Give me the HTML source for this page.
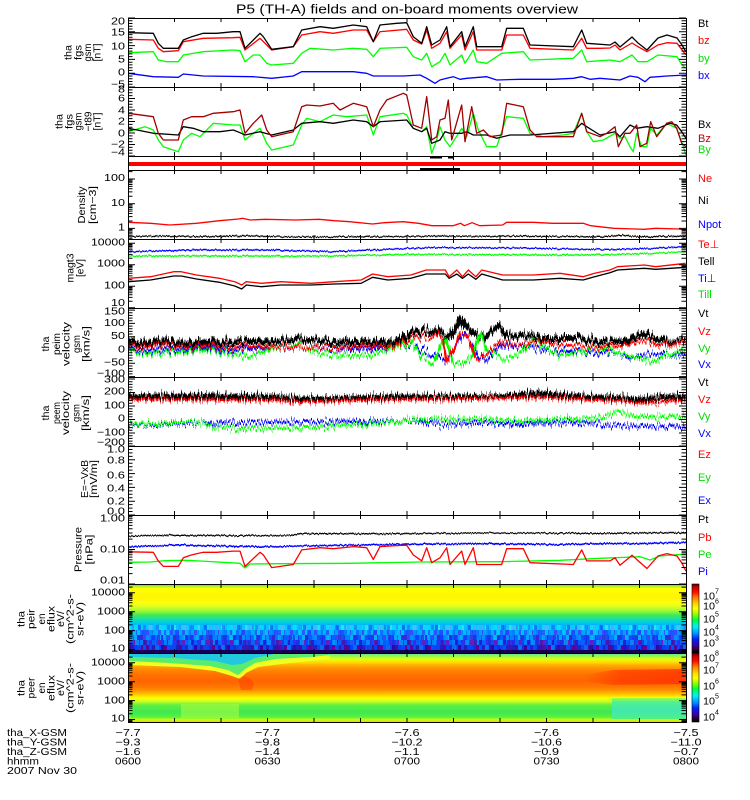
<!DOCTYPE html>
<html><head><meta charset="utf-8">
<style>
html,body{margin:0;padding:0;background:#fff}
svg{display:block}
text{font-family:"Liberation Sans",sans-serif;fill:#000}
</style></head>
<body>
<svg width="750" height="800" viewBox="0 0 750 800" xmlns="http://www.w3.org/2000/svg">
<defs>
<linearGradient id="ionG" gradientUnits="userSpaceOnUse" x1="0" y1="584" x2="0" y2="625">
<stop offset="0" stop-color="#58d840"/><stop offset="0.06" stop-color="#b0f020"/><stop offset="0.11" stop-color="#ffff00"/>
<stop offset="0.32" stop-color="#fff400"/><stop offset="0.46" stop-color="#ffff10"/><stop offset="0.56" stop-color="#d8ff20"/>
<stop offset="0.66" stop-color="#98f838"/><stop offset="0.76" stop-color="#40e858"/><stop offset="0.85" stop-color="#18e0a0"/>
<stop offset="0.93" stop-color="#00d0e0"/><stop offset="1" stop-color="#00b0ff"/>
</linearGradient>
<linearGradient id="elG" gradientUnits="userSpaceOnUse" x1="0" y1="653" x2="0" y2="722">
<stop offset="0" stop-color="#50e8a0"/><stop offset="0.043" stop-color="#90f850"/><stop offset="0.087" stop-color="#e0ff10"/>
<stop offset="0.13" stop-color="#ffe000"/><stop offset="0.174" stop-color="#ffb000"/><stop offset="0.232" stop-color="#ff8c00"/>
<stop offset="0.319" stop-color="#ff7000"/><stop offset="0.406" stop-color="#ff6400"/><stop offset="0.493" stop-color="#ff7800"/>
<stop offset="0.551" stop-color="#ff9800"/><stop offset="0.609" stop-color="#ffd000"/><stop offset="0.652" stop-color="#ffff00"/>
<stop offset="0.696" stop-color="#d0ff20"/><stop offset="0.754" stop-color="#60f040"/><stop offset="0.855" stop-color="#40e850"/>
<stop offset="0.928" stop-color="#58f040"/><stop offset="0.964" stop-color="#c0ff10"/><stop offset="1" stop-color="#ffd000"/>
</linearGradient>
<linearGradient id="redCore" x1="0" y1="0" x2="1" y2="0">
<stop offset="0" stop-color="#ff3000" stop-opacity="0"/><stop offset="0.35" stop-color="#ff3000" stop-opacity="0.6"/><stop offset="1" stop-color="#ff2800" stop-opacity="0.7"/>
</linearGradient>
<linearGradient id="cyR" x1="0" y1="0" x2="0" y2="1">
<stop offset="0" stop-color="#a0ff40"/><stop offset="0.2" stop-color="#50f090"/><stop offset="0.6" stop-color="#40e8b0"/><stop offset="1" stop-color="#50f080"/>
</linearGradient>
<linearGradient id="cbG" x1="0" y1="0" x2="0" y2="1">
<stop offset="0" stop-color="#600000"/><stop offset="0.05" stop-color="#d00000"/><stop offset="0.12" stop-color="#ff1000"/>
<stop offset="0.2" stop-color="#ff8000"/><stop offset="0.3" stop-color="#ffe000"/><stop offset="0.36" stop-color="#ffff00"/>
<stop offset="0.45" stop-color="#80ff00"/><stop offset="0.52" stop-color="#00ff40"/><stop offset="0.62" stop-color="#00f0ff"/>
<stop offset="0.72" stop-color="#0090ff"/><stop offset="0.8" stop-color="#0020ff"/><stop offset="0.9" stop-color="#400090"/>
<stop offset="0.96" stop-color="#200020"/><stop offset="1" stop-color="#000000"/>
</linearGradient>
<pattern id="ionNoise" patternUnits="userSpaceOnUse" x="128" y="625" width="24" height="25">
<rect x="0" y="0" width="3" height="5" fill="#00c0ff"/><rect x="3" y="0" width="3" height="5" fill="#20a0ff"/><rect x="6" y="0" width="3" height="5" fill="#00e0f0"/><rect x="9" y="0" width="3" height="5" fill="#40b0ff"/><rect x="12" y="0" width="3" height="5" fill="#00d0ff"/><rect x="15" y="0" width="3" height="5" fill="#1090ff"/><rect x="18" y="0" width="3" height="5" fill="#00c8ff"/><rect x="21" y="0" width="3" height="5" fill="#30e0e0"/>
<rect x="0" y="5" width="3" height="5" fill="#0080ff"/><rect x="3" y="5" width="3" height="5" fill="#00b0ff"/><rect x="6" y="5" width="3" height="5" fill="#2060ff"/><rect x="9" y="5" width="3" height="5" fill="#00c0ff"/><rect x="12" y="5" width="3" height="5" fill="#1070ff"/><rect x="15" y="5" width="3" height="5" fill="#00a0ff"/><rect x="18" y="5" width="3" height="5" fill="#3050ff"/><rect x="21" y="5" width="3" height="5" fill="#0090ff"/>
<rect x="0" y="10" width="3" height="5" fill="#1040ff"/><rect x="3" y="10" width="3" height="5" fill="#0070ff"/><rect x="6" y="10" width="3" height="5" fill="#00b0ff"/><rect x="9" y="10" width="3" height="5" fill="#2030f0"/><rect x="12" y="10" width="3" height="5" fill="#0060ff"/><rect x="15" y="10" width="3" height="5" fill="#4040ff"/><rect x="18" y="10" width="3" height="5" fill="#0090ff"/><rect x="21" y="10" width="3" height="5" fill="#1050f0"/>
<rect x="0" y="15" width="3" height="5" fill="#2030e0"/><rect x="3" y="15" width="3" height="5" fill="#0050ff"/><rect x="6" y="15" width="3" height="5" fill="#6020c0"/><rect x="9" y="15" width="3" height="5" fill="#1040ff"/><rect x="12" y="15" width="3" height="5" fill="#0080ff"/><rect x="15" y="15" width="3" height="5" fill="#2020d0"/><rect x="18" y="15" width="3" height="5" fill="#0060ff"/><rect x="21" y="15" width="3" height="5" fill="#3030f0"/>
<rect x="0" y="20" width="3" height="5" fill="#2020c0"/><rect x="3" y="20" width="3" height="5" fill="#4010a0"/><rect x="6" y="20" width="3" height="5" fill="#0040ff"/><rect x="9" y="20" width="3" height="5" fill="#1030e0"/><rect x="12" y="20" width="3" height="5" fill="#6000a0"/><rect x="15" y="20" width="3" height="5" fill="#0050ff"/><rect x="18" y="20" width="3" height="5" fill="#2020d0"/><rect x="21" y="20" width="3" height="5" fill="#1040f0"/>
</pattern>
<pattern id="ionNoise2" patternUnits="userSpaceOnUse" x="128" y="625" width="33" height="25">
<rect x="0" y="0" width="4" height="5" fill="#00e0ff"/><rect x="10" y="0" width="3" height="5" fill="#0060ff"/><rect x="20" y="0" width="5" height="5" fill="#40c0ff"/><rect x="28" y="0" width="3" height="5" fill="#1080ff"/>
<rect x="5" y="5" width="3" height="5" fill="#00d0ff"/><rect x="14" y="5" width="4" height="5" fill="#2040ff"/><rect x="25" y="5" width="3" height="5" fill="#00b0ff"/>
<rect x="2" y="10" width="3" height="5" fill="#00c0ff"/><rect x="12" y="10" width="3" height="5" fill="#4020c0"/><rect x="19" y="10" width="4" height="5" fill="#0090ff"/><rect x="29" y="10" width="3" height="5" fill="#2030e0"/>
<rect x="7" y="15" width="4" height="5" fill="#00a0ff"/><rect x="16" y="15" width="3" height="5" fill="#5010a0"/><rect x="24" y="15" width="4" height="5" fill="#0070ff"/>
<rect x="0" y="20" width="3" height="5" fill="#3000a0"/><rect x="9" y="20" width="4" height="5" fill="#0050ff"/><rect x="18" y="20" width="3" height="5" fill="#600090"/><rect x="27" y="20" width="4" height="5" fill="#0080ff"/>
</pattern>
<filter id="jA" filterUnits="userSpaceOnUse" x="100" y="0" width="620" height="800" color-interpolation-filters="sRGB">
<feTurbulence type="fractalNoise" baseFrequency="0.7 0.01" numOctaves="2" seed="7" result="t"/>
<feColorMatrix in="t" type="matrix" values="0 0 0 0 0.5  0 1 0 0 0  0 0 0 0 0  0 0 0 0 1" result="m"/>
<feDisplacementMap in="SourceGraphic" in2="m" scale="16" xChannelSelector="R" yChannelSelector="G"/>
</filter>
<filter id="jB" filterUnits="userSpaceOnUse" x="100" y="0" width="620" height="800" color-interpolation-filters="sRGB">
<feTurbulence type="fractalNoise" baseFrequency="0.8 0.01" numOctaves="2" seed="3" result="t"/>
<feColorMatrix in="t" type="matrix" values="0 0 0 0 0.5  0 1 0 0 0  0 0 0 0 0  0 0 0 0 1" result="m"/>
<feDisplacementMap in="SourceGraphic" in2="m" scale="3" xChannelSelector="R" yChannelSelector="G"/>
</filter>
<g id="xd"><path d="M174.5 0v4M221 0v4M267.5 0v4M314 0v4M360.5 0v4M407 0v4M453.5 0v4M500 0v4M546.5 0v4M593 0v4M639.5 0v4" stroke="#000" fill="none"/></g>
<g id="xu"><path d="M174.5 0v-4M221 0v-4M267.5 0v-4M314 0v-4M360.5 0v-4M407 0v-4M453.5 0v-4M500 0v-4M546.5 0v-4M593 0v-4M639.5 0v-4" stroke="#000" fill="none"/></g>
<g id="lt">
<path stroke="#000" fill="none" d="M128 18h7M128 31.8h7M128 45.6h7M128 59.4h7M128 73.2h7M128 87h7M128 98.5h7M128 110h7M128 121.5h7M128 133h7M128 144.5h7M128 156h7M128 179h7M128 203.7h7M128 228.4h7M128 243.2h7M128 264.7h7M128 286.2h7M128 307.7h7M128 310.1h7M128 323.4h7M128 336.7h7M128 350h7M128 363.3h7M128 376.6h7M128 379h7M128 392.5h7M128 406h7M128 419.5h7M128 433h7M128 446h7M128 459.8h7M128 473.6h7M128 487.4h7M128 501.2h7M128 515h7M128 549.5h7M128 584h7M128 592.8h7M128 611.7h7M128 630.6h7M128 649.5h7M128 662.8h7M128 681.7h7M128 700.6h7M128 719.5h7"/>
<path stroke="#000" fill="none" d="M128 20.8h4.5M128 23.5h4.5M128 26.3h4.5M128 29h4.5M128 34.6h4.5M128 37.3h4.5M128 40.1h4.5M128 42.8h4.5M128 48.4h4.5M128 51.1h4.5M128 53.9h4.5M128 56.6h4.5M128 62.2h4.5M128 64.9h4.5M128 67.7h4.5M128 70.4h4.5M128 76h4.5M128 78.7h4.5M128 81.5h4.5M128 84.2h4.5
M128 89.9h4.5M128 92.75h4.5M128 95.6h4.5M128 101.4h4.5M128 104.25h4.5M128 107.1h4.5M128 112.9h4.5M128 115.75h4.5M128 118.6h4.5M128 124.4h4.5M128 127.25h4.5M128 130.1h4.5M128 135.9h4.5M128 138.75h4.5M128 141.6h4.5M128 147.4h4.5M128 150.25h4.5M128 153.1h4.5
M128 171.6h4.5M128 180.1h4.5M128 181.4h4.5M128 182.8h4.5M128 184.5h4.5M128 186.4h4.5M128 188.8h4.5M128 191.9h4.5M128 196.3h4.5M128 204.8h4.5M128 206.1h4.5M128 207.5h4.5M128 209.2h4.5M128 211.1h4.5M128 213.5h4.5M128 216.6h4.5M128 221h4.5M128 229.5h4.5M128 230.8h4.5M128 232.2h4.5M128 233.9h4.5M128 235.8h4.5M128 238.2h4.5
M128 244.2h4.5M128 245.3h4.5M128 246.5h4.5M128 248h4.5M128 249.7h4.5M128 251.8h4.5M128 254.4h4.5M128 258.2h4.5M128 265.7h4.5M128 266.8h4.5M128 268h4.5M128 269.5h4.5M128 271.2h4.5M128 273.3h4.5M128 275.9h4.5M128 279.7h4.5M128 287.2h4.5M128 288.3h4.5M128 289.5h4.5M128 291h4.5M128 292.7h4.5M128 294.8h4.5M128 297.4h4.5M128 301.2h4.5
M128 312.8h4.5M128 315.4h4.5M128 318.1h4.5M128 320.7h4.5M128 326.1h4.5M128 328.7h4.5M128 331.4h4.5M128 334h4.5M128 339.4h4.5M128 342h4.5M128 344.7h4.5M128 347.3h4.5M128 352.7h4.5M128 355.3h4.5M128 358h4.5M128 360.6h4.5M128 366h4.5M128 368.6h4.5M128 371.3h4.5M128 373.9h4.5
M128 381.7h4.5M128 384.4h4.5M128 387.1h4.5M128 389.8h4.5M128 395.2h4.5M128 397.9h4.5M128 400.6h4.5M128 403.3h4.5M128 408.7h4.5M128 411.4h4.5M128 414.1h4.5M128 416.8h4.5M128 422.2h4.5M128 424.9h4.5M128 427.6h4.5M128 430.3h4.5M128 435.7h4.5M128 438.4h4.5M128 441.1h4.5M128 443.8h4.5
M128 449.45h4.5M128 452.9h4.5M128 456.35h4.5M128 463.25h4.5M128 466.7h4.5M128 470.15h4.5M128 477.05h4.5M128 480.5h4.5M128 483.95h4.5M128 490.85h4.5M128 494.3h4.5M128 497.75h4.5M128 504.65h4.5M128 508.1h4.5M128 511.55h4.5
M128 516.6h4.5M128 518.3h4.5M128 520.3h4.5M128 522.6h4.5M128 525.4h4.5M128 528.7h4.5M128 533h4.5M128 539.1h4.5M128 551.1h4.5M128 552.8h4.5M128 554.8h4.5M128 557.1h4.5M128 559.9h4.5M128 563.2h4.5M128 567.5h4.5M128 573.6h4.5
M128 587.1h4.5M128 593.7h4.5M128 594.6h4.5M128 595.7h4.5M128 597h4.5M128 598.5h4.5M128 600.3h4.5M128 602.7h4.5M128 606h4.5M128 612.6h4.5M128 613.5h4.5M128 614.6h4.5M128 615.9h4.5M128 617.4h4.5M128 619.2h4.5M128 621.6h4.5M128 624.9h4.5M128 631.5h4.5M128 632.4h4.5M128 633.5h4.5M128 634.8h4.5M128 636.3h4.5M128 638.1h4.5M128 640.5h4.5M128 643.8h4.5M128 650.4h4.5M128 651.5h4.5M128 652.4h4.5
M128 657.1h4.5M128 663.7h4.5M128 664.6h4.5M128 665.7h4.5M128 667h4.5M128 668.5h4.5M128 670.3h4.5M128 672.7h4.5M128 676h4.5M128 682.6h4.5M128 683.5h4.5M128 684.6h4.5M128 685.9h4.5M128 687.4h4.5M128 689.2h4.5M128 691.6h4.5M128 694.9h4.5M128 701.5h4.5M128 702.4h4.5M128 703.5h4.5M128 704.8h4.5M128 706.3h4.5M128 708.1h4.5M128 710.5h4.5M128 713.8h4.5M128 720.4h4.5M128 721.5h4.5"/>
</g>
</defs>

<rect width="750" height="800" fill="#fff"/>

<!-- Title -->
<text x="407" y="9" font-size="13" text-anchor="middle" dominant-baseline="central" textLength="342" lengthAdjust="spacingAndGlyphs">P5 (TH-A) fields and on-board moments overview</text>

<!-- Spectrogram: peir -->
<rect x="128" y="584" width="558" height="41" fill="url(#ionG)"/>
<rect x="128" y="625" width="558" height="25" fill="url(#ionNoise)"/>
<rect x="128" y="625" width="558" height="25" fill="url(#ionNoise2)" opacity="0.75"/>
<rect x="128" y="650" width="558" height="3" fill="#180050"/>

<!-- Spectrogram: peer -->
<rect x="128" y="653" width="558" height="69" fill="url(#elG)"/>
<polygon fill="#f0ff20" points="128,661 170,663 210,666 228,670 238,675 245,669 255,663 275,659 310,657 330,655 330,659 290,663 258,667 246,673 240,679 232,676 215,671 180,667 128,665"/>
<polygon fill="#58ec70" points="128,653 128,661 170,663 210,666 228,670 238,675 245,669 255,663 275,659 310,657 330,655 330,653"/>
<polygon fill="#20c8e0" points="128,653 128,657 175,658 215,661 232,665 242,664 255,658 275,654 280,653"/>
<polygon fill="#ff4000" opacity="0.5" points="238,679 243,676 249,678 254,683 252,690 241,690"/>
<polygon fill="url(#redCore)" points="585,675 612,670 686,669 686,684 612,685 585,681"/>
<rect x="612" y="698" width="74" height="21" fill="url(#cyR)"/>
<rect x="181" y="704" width="58" height="14" fill="#b8ff40" opacity="0.5"/>

<!-- Red bar panel -->
<rect x="128" y="162" width="558" height="4" fill="#ff0000"/>
<rect x="430" y="156" width="12" height="2.5" fill="#000"/>
<rect x="448" y="156" width="6" height="2.5" fill="#000"/>
<rect x="420" y="168" width="40" height="2" fill="#000"/>

<!-- Panel 1: fgs gsm -->
<g fill="none" stroke-width="1.3" stroke-linejoin="round">
<polyline stroke="#0000ff" points="128.3,73.3 153.3,76.7 178.3,77.3 183.3,74 203.3,76 253.3,76.7 271.7,78.3 293.3,76 301.7,71.7 320,71.7 353.3,71.7 366.7,73.3 373.3,76 403.3,76 420,75 426.7,78.3 435,83.3 440,80 446.7,78.3 453.3,76.7 460,79.3 466.7,78.3 486.7,76.7 496.7,80 520,79.3 553.3,79.3 573.3,78.3 581.7,76.7 590,79.3 600,78.3 620,80 630,76 638,77.3 645,81.7 650,77.3 667,76 686,75"/>
<polyline stroke="#00ff00" points="128.3,52.7 153.3,51.7 158.3,60 166.7,61.7 178.3,61.7 183.3,55 203.3,51.7 233.3,50 240,50.7 245,61.7 253.3,55 260,55 266.7,63.3 271.7,65 293.3,63.3 301.7,53.3 310,48.3 333.3,50 353.3,48.3 366.7,49.3 373.3,56.7 380,48.3 406.7,47.3 413.3,56.7 421.7,60 426.7,53.3 431.7,66.7 440,61.7 445,53.3 450,65 461.7,55 465,63.3 473.3,50 476.7,61.7 486.7,63.3 501.7,53.3 523.3,51.7 530,60 573.3,58.3 581.7,50 586.7,61.7 610,60 620,61.7 632,55 638,61.7 647,61.7 658,55 677,56.7 682,65 686,68.3"/>
<polyline stroke="#ff0000" points="128.3,39.3 153.3,40 158.3,48.3 163.3,51.7 178.3,50.7 183.3,41.7 203.3,38.3 233.3,37.7 240,37.3 245,50 260,38.3 271.7,50 293.3,46.7 301.7,35 320,31.7 333.3,33.3 353.3,30 366.7,30 373.3,41.7 380,31.7 406.7,29.3 413.3,40 421.7,44 426.7,30 431.7,48.3 440,43.3 446.7,31.7 450,48.3 461.7,35 465,50 473.3,31.7 476.7,50 501.7,50 506.7,35 523.3,35 530,48.3 573.3,50 581.7,38.3 586.7,48.3 600,48.3 610,48 615,45 620,50 632,43 638,46.7 647,51.7 658,45 667,42.7 677,43.3 686,55"/>
<polyline stroke="#000000" points="128.3,32.7 153.3,33.3 158.3,43.3 163.3,48.3 178.3,48.3 183.3,40 191.7,36.7 203.3,33.3 216.7,33.3 233.3,31.7 240,31.7 245,48.3 260,33.3 263.3,36.7 271.7,49.3 293.3,46.7 301.7,30 320,26.7 333.3,28.3 353.3,25 366.7,26.7 373.3,41.7 380,25 396.7,23.3 406.7,22.7 413.3,36.7 421.7,43.3 426.7,26.7 431.7,45 440,40 446.7,26.7 450,46.7 461.7,31.7 465,46.7 473.3,26.7 476.7,46.7 501.7,46.7 506.7,28.3 523.3,28.3 530,45 573.3,46.7 581.7,30 586.7,43.3 610,45 615,42 620,47 632,37 638,43 647,50 658,38 667,35 677,38 682,45 686,52"/>
</g>

<!-- Panel 2: fgs gsm - t89 -->
<g fill="none" stroke-width="1.3" stroke-linejoin="round">
<polyline stroke="#00ff00" points="128.3,131.7 145,126.7 153.3,130 158.3,140 163.3,146.7 178.3,151.7 183.3,140 191.7,133.3 200,136.7 213.3,123.3 233.3,125 240,125 245,140 253.3,133.3 260,128.3 266.7,143.3 271.7,150 293.3,145 301.7,125 306.7,118.3 320,121.7 333.3,115 346.7,116.7 366.7,115 373.3,135 380,116.7 403.3,113.3 406.7,115 413.3,128.3 421.7,131.7 426.7,126.7 431.7,153.3 436.7,140 440,126.7 445,140 450,146.7 461.7,128.3 466.7,136.7 473.3,113.3 478.3,130 486.7,146.7 496.7,146.7 506.7,116.7 523.3,118.3 530,133.3 543.3,136.7 563.3,135 573.3,133.3 581.7,113.3 586.7,131.7 593.3,141.7 603.3,140 615,133.3 620,138.3 625,136.7 630,146.7 633.3,151.7 636.7,133.3 641.7,146.7 646.7,146.7 650.7,128.3 656.7,135 666.7,123.3 676.7,128.3 683.3,146.7 686,155"/>
<polyline stroke="#000000" points="128.3,128.3 153.3,133.3 178.3,135 183.3,126.7 193.3,128.3 203.3,131.7 220,131.7 233.3,130 240,132.7 245,135 260,131.7 271.7,135 293.3,130 301.7,123.3 320,121.7 333.3,123.3 353.3,120 366.7,121.7 373.3,126.7 380,121.7 406.7,120 413.3,128.3 421.7,131.7 426.7,128.3 431.7,143.3 440,140 445,131.7 450,133.3 461.7,133.3 466.7,131.7 473.3,135 486.7,135 496.7,138.3 510,135 530,135 573.3,131.7 581.7,123.3 586.7,126.7 600,135 615,131.7 620,136.7 630,125 636.7,128.3 646.7,126.7 658,128.3 670,123.3 676.7,125 681.7,131.7 686,138.3"/>
<polyline stroke="#a00000" points="128.3,113.3 153.3,116.7 158.3,133.3 163.3,140 178.3,140 183.3,120 191.7,116.7 203.3,116.7 213.3,113.3 233.3,111.7 240,110 245,133.3 253.3,123.3 261.7,115 266.7,130 271.7,136.7 293.3,131.7 301.7,106.7 306.7,105 320,106 333.3,103.3 340,110 353.3,103.3 366.7,106.7 373.3,126.7 380,110 386.7,100 403.3,93.3 406.7,95 413.3,125 421.7,128.3 426.7,96.7 431.7,140 436.7,136.7 440,120 445,118.3 448.3,100 451.7,140 461.7,105 465,141.7 471.7,106.7 476.7,133.3 483.3,130 490,136.7 501.7,135 506.7,103.3 523.3,106.7 530,130 536.7,136.7 573.3,136.7 581.7,113.3 586.7,131.7 600,136.7 606.7,133.3 615,126.7 618.3,146.7 625,133.3 630,133.3 636.7,125 640,146.7 646.7,143.3 650.7,121.7 656.7,136.7 666.7,123.3 671.7,121.7 676.7,128.3 681.7,143.3 686,146.7"/>
</g>

<!-- Density -->
<g fill="none" stroke-linejoin="round">
<polyline stroke="#000" stroke-width="1.3" filter="url(#jB)" points="128,236.5 160,236 200,236.8 240,235.8 280,236.6 320,237 360,236.8 400,236.5 440,236 480,236.4 520,236.2 560,236.5 600,236.8 620,235.2 640,236.8 686,236.3"/>
<polyline stroke="#ff0000" stroke-width="1.3" points="128.4,222.3 150.6,223.3 169.8,225 196.5,223.3 219.5,220.7 238.6,219 242.5,218.3 250.1,220 265.4,219.3 296,220 319,219.3 334.3,220.7 349.6,221.7 372.6,224 384.1,222.7 403.2,221.7 418.5,223.3 431.9,225.7 453,225.7 460.6,223.3 464.4,225.7 472.1,222.7 479.7,225.7 502.7,225 506.5,222.3 533.3,222.3 552.5,223.3 583.1,223.3 590.7,225.7 613.7,228.3 644.3,229.3 655.8,228.3 678.7,229 685.6,230"/>
</g>

<!-- Temperature -->
<g fill="none" stroke-linejoin="round">
<polyline stroke="#0000ff" stroke-width="1.4" filter="url(#jB)" points="128.4,251.7 196.5,250 273,250 334.3,251.7 387.9,249.3 426.2,247.7 464.4,247.7 541,248.3 579.2,249.3 617.5,249.3 655.8,248.3 685.6,246.7"/>
<polyline stroke="#00ff00" stroke-width="1.4" filter="url(#jB)" points="128.4,256 273,256 334.3,256 411,254.3 541,255 579.2,255 617.5,254.3 655.8,253.3 685.6,251.7"/>
<polyline stroke="#000000" stroke-width="1.3" points="128.4,281.7 150.6,280 173.6,276 181.2,276 196.5,279 219.5,282.3 234.8,286 241.7,289 246.3,285 261.6,286.7 280.7,285 311.4,285 334.3,284 361.1,283.3 372.6,277.3 387.9,280 410.9,278.3 426.2,274 445.3,274 449.1,278.3 456.8,274 462.5,278.3 468.3,274 475.9,279.3 481.7,274 502.7,280 533.3,280 560.1,278.3 583.1,280 594.6,276.7 609.9,272.7 617.5,270 644.3,268.3 655.8,269.3 685.6,267.3"/>
<polyline stroke="#ff0000" stroke-width="1.3" points="128.4,278.3 150.6,276.7 173.6,271.7 181.2,271.7 196.5,275 219.5,278.3 234.8,281.7 241.7,285 246.3,281.7 261.6,283.3 280.7,281.7 311.4,283.3 334.3,281.7 361.1,280 372.6,274 387.9,276.7 410.9,275 426.2,270 445.3,270 449.1,276.7 456.8,270 462.5,276.7 468.3,270 475.9,276.7 481.7,270 502.7,275 533.3,275 560.1,273.3 583.1,276.7 594.6,273.3 609.9,270 617.5,266.7 644.3,265 655.8,266.7 685.6,263.3"/>
</g>

<!-- Velocity peim -->
<g fill="none" stroke-linejoin="round" filter="url(#jA)">
<polyline stroke="#000" stroke-width="5.5" points="128.4,343 158.3,342.5 196.5,342.5 234.8,341.7 273,341.7 300,338.3 334.3,341.7 368.8,342.5 395.5,342.5 411,333.3 426.2,330 437.6,331.7 449,336.7 456.8,326.7 460.6,318.3 464.4,325 472,331.7 483.6,336.7 499,326.7 506.5,335 521.8,336.7 541,338.3 579,338.3 602,341.7 625,341.7 644,333.3 655.8,338.3 671,341.7 685.6,340"/>
<polyline stroke="#0000ff" stroke-width="2.5" points="128.4,350 158.3,351.7 196.5,348.3 234.8,350 300,346.7 368.8,350 411,345 433.8,355 445.3,361.7 456.8,343.3 464.4,333.3 479.7,356.7 487.4,360 502.7,345 541,350 617.5,353.3 629,358.3 650,353.3 685.6,355"/>
<polyline stroke="#00ff00" stroke-width="2.5" points="128.4,351.7 158.3,355 196.5,350 234.8,353.3 246.3,358.3 273,348.3 300,345 319,353.3 368.8,356.7 387.9,350 411,343.3 422.3,356.7 433.8,363.3 445.3,336.7 452.9,361.7 462.5,365 472,356.7 479.7,331.7 487.4,350 502.7,360 521.8,353.3 533.3,341.7 560.1,355 579.2,353.3 594.6,346.7 617.5,353.3 632.8,356.7 651.9,361.7 671,353.3 685.6,350"/>
<polyline stroke="#ff0000" stroke-width="2.5" points="128.4,346.7 160,346.7 200,346 240,347 280,346.7 330,347.3 370,346.7 395,346.7 411,338.3 426.2,336.7 437.6,335 443.4,341.7 446.4,361.7 452.9,350 460.6,333.3 468.3,338.3 475.9,358.3 487.4,353.3 502.7,341.7 521.8,346.7 541,341.7 580,346.7 620,346.7 644,340 660,345 685.6,341.7"/>
</g>

<!-- Velocity peem -->
<g fill="none" stroke-linejoin="round" filter="url(#jA)">
<polyline stroke="#000" stroke-width="5" points="128.4,396.7 200,396 273,397 300,399 330,399 400,396.7 450,397 500,396.7 541,393.3 580,396.7 620,398 640,400 660,397 685.6,396.7"/>
<polyline stroke="#ff0000" stroke-width="2.5" points="128.4,399.3 273,400 300,401.7 330,401 400,399.3 460,399 541,397.3 580,399.3 625,401 640,403.3 685.6,400"/>
<polyline stroke="#0000ff" stroke-width="2.5" points="128.4,424 234.8,422.7 311.4,421.7 411,420.7 445.3,425 464.4,423.3 502.7,423.3 579.2,422.7 617.5,426 685.6,426.7"/>
<polyline stroke="#00ff00" stroke-width="2.5" points="128.4,423.3 196.5,422 215,427 234.8,429 273,428.3 300,428 350,425 411,420 464.4,419.3 541,420 598.4,418.3 617.5,411.7 636.7,416.7 685.6,416.7"/>
</g>

<!-- Pressure -->
<g fill="none" stroke-linejoin="round">
<polyline stroke="#000" stroke-width="1.3" filter="url(#jB)" points="128,536 180,535.3 240,535.7 290,535.3 300,533.7 400,533.7 500,533 600,533.3 686,532.7"/>
<polyline stroke="#0000ff" stroke-width="1.6" filter="url(#jB)" points="128,546.7 160,546 180,544.7 200,545.7 260,546.7 300,546 400,544.3 500,543.7 560,544.7 600,543.3 640,543.7 686,542.3"/>
<polyline stroke="#00ff00" stroke-width="1.3" points="128,562.3 150,562 165,560.7 185,560.3 200,561 240,563.3 245,568 250,564 280,563.7 350,563.3 420,562 500,561.7 560,560.3 600,558.3 640,556.7 650,560 660,556 686,554"/>
<polyline stroke="#ff0000" stroke-width="1.3" points="128.3,551.8 153.3,552.3 158.3,560.9 163.3,566.4 178.3,566.4 183.3,557.8 191.7,554.9 203.3,552.3 216.7,552.3 233.3,551.1 240,551.1 245,566.4 260,552.3 263.3,554.9 271.7,567.6 293.3,564.5 301.7,549.9 320,547.7 333.3,548.7 353.3,546.6 366.7,547.7 373.3,559.4 380,546.6 396.7,545.6 406.7,545.2 413.3,554.9 421.7,560.9 426.7,547.7 431.7,562.7 440,557.8 446.7,547.7 450,564.5 461.7,551.1 465,564.5 473.3,547.7 476.7,564.5 501.7,564.5 506.7,548.7 523.3,548.7 530,562.7 573.3,564.5 581.7,549.9 586.7,560.9 610,560.9 615,557.8 620,565.2 632,555.2 638,560.6 647,568.5 658,556 667,553.6 677,556 682,563.3 686,571.2"/>
</g>

<!-- Frames -->
<path d="M128 18.5H686M128 87.5H686M128 156.5H686M128 170.5H686M128 239.5H686M128 308.5H686M128 377.5H686M128 446.5H686M128 515.5H686M128 584.5H686M128 653.5H686M128 722.5H686M128.5 18V723M686.5 18V723" stroke="#000" stroke-width="1" fill="none"/>

<!-- y ticks -->
<use href="#lt"/>
<use href="#lt" transform="matrix(-1 0 0 1 814 0)"/>

<!-- x ticks -->
<use href="#xd" y="18"/>
<use href="#xd" y="87"/><use href="#xu" y="87"/>
<use href="#xd" y="156"/><use href="#xu" y="156"/>
<use href="#xd" y="170"/><use href="#xu" y="170"/>
<use href="#xd" y="239"/><use href="#xu" y="239"/>
<use href="#xd" y="308"/><use href="#xu" y="308"/>
<use href="#xd" y="377"/><use href="#xu" y="377"/>
<use href="#xd" y="446"/><use href="#xu" y="446"/>
<use href="#xd" y="515"/><use href="#xu" y="515"/>
<use href="#xd" y="584"/><use href="#xu" y="584"/>
<use href="#xd" y="653"/><use href="#xu" y="653"/>
<use href="#xu" y="722"/>

<!-- Colorbars -->
<rect x="692" y="584" width="7" height="69" fill="url(#cbG)" stroke="#000" stroke-width="0.6"/>
<rect x="692" y="653" width="7" height="69" fill="url(#cbG)" stroke="#000" stroke-width="0.6"/>
<g font-size="10" dominant-baseline="central">
<text x="703" y="597" textLength="12" lengthAdjust="spacingAndGlyphs">10</text><text x="715" y="592" font-size="7">7</text>
<text x="703" y="607" textLength="12" lengthAdjust="spacingAndGlyphs">10</text><text x="715" y="602" font-size="7">6</text>
<text x="703" y="620" textLength="12" lengthAdjust="spacingAndGlyphs">10</text><text x="715" y="615" font-size="7">5</text>
<text x="703" y="633" textLength="12" lengthAdjust="spacingAndGlyphs">10</text><text x="715" y="628" font-size="7">4</text>
<text x="703" y="644" textLength="12" lengthAdjust="spacingAndGlyphs">10</text><text x="715" y="639" font-size="7">3</text>
<text x="703" y="659" textLength="12" lengthAdjust="spacingAndGlyphs">10</text><text x="715" y="654" font-size="7">8</text>
<text x="703" y="671" textLength="12" lengthAdjust="spacingAndGlyphs">10</text><text x="715" y="666" font-size="7">7</text>
<text x="703" y="687" textLength="12" lengthAdjust="spacingAndGlyphs">10</text><text x="715" y="682" font-size="7">6</text>
<text x="703" y="702" textLength="12" lengthAdjust="spacingAndGlyphs">10</text><text x="715" y="697" font-size="7">5</text>
<text x="703" y="718" textLength="12" lengthAdjust="spacingAndGlyphs">10</text><text x="715" y="713" font-size="7">4</text>
</g>

<!-- y tick labels -->
<g font-size="10" text-anchor="end" dominant-baseline="central">
<text x="125" y="22" textLength="14" lengthAdjust="spacingAndGlyphs">20</text>
<text x="125" y="33" textLength="14" lengthAdjust="spacingAndGlyphs">15</text>
<text x="125" y="47" textLength="14" lengthAdjust="spacingAndGlyphs">10</text>
<text x="125" y="60" textLength="7" lengthAdjust="spacingAndGlyphs">5</text>
<text x="125" y="73" textLength="7" lengthAdjust="spacingAndGlyphs">0</text>
<text x="125" y="85" textLength="14" lengthAdjust="spacingAndGlyphs">−5</text>
<text x="125" y="90" textLength="7" lengthAdjust="spacingAndGlyphs">8</text>
<text x="125" y="99" textLength="7" lengthAdjust="spacingAndGlyphs">6</text>
<text x="125" y="111" textLength="7" lengthAdjust="spacingAndGlyphs">4</text>
<text x="125" y="122" textLength="7" lengthAdjust="spacingAndGlyphs">2</text>
<text x="125" y="134" textLength="7" lengthAdjust="spacingAndGlyphs">0</text>
<text x="125" y="145" textLength="14" lengthAdjust="spacingAndGlyphs">−2</text>
<text x="125" y="153" textLength="14" lengthAdjust="spacingAndGlyphs">−4</text>
<text x="125" y="178.5" textLength="21" lengthAdjust="spacingAndGlyphs">100</text>
<text x="125" y="203.5" textLength="14" lengthAdjust="spacingAndGlyphs">10</text>
<text x="125" y="228" textLength="7" lengthAdjust="spacingAndGlyphs">1</text>
<text x="125" y="243" textLength="34" lengthAdjust="spacingAndGlyphs">10000</text>
<text x="125" y="264" textLength="28" lengthAdjust="spacingAndGlyphs">1000</text>
<text x="125" y="286" textLength="21" lengthAdjust="spacingAndGlyphs">100</text>
<text x="125" y="303.5" textLength="14" lengthAdjust="spacingAndGlyphs">10</text>
<text x="125" y="312" textLength="21" lengthAdjust="spacingAndGlyphs">150</text>
<text x="125" y="323.5" textLength="21" lengthAdjust="spacingAndGlyphs">100</text>
<text x="125" y="336.5" textLength="14" lengthAdjust="spacingAndGlyphs">50</text>
<text x="125" y="350" textLength="7" lengthAdjust="spacingAndGlyphs">0</text>
<text x="125" y="363" textLength="21" lengthAdjust="spacingAndGlyphs">−50</text>
<text x="125" y="374" textLength="28" lengthAdjust="spacingAndGlyphs">−100</text>
<text x="125" y="380" textLength="21" lengthAdjust="spacingAndGlyphs">300</text>
<text x="125" y="392" textLength="21" lengthAdjust="spacingAndGlyphs">200</text>
<text x="125" y="406" textLength="21" lengthAdjust="spacingAndGlyphs">100</text>
<text x="125" y="419" textLength="7" lengthAdjust="spacingAndGlyphs">0</text>
<text x="125" y="433" textLength="28" lengthAdjust="spacingAndGlyphs">−100</text>
<text x="125" y="443" textLength="28" lengthAdjust="spacingAndGlyphs">−200</text>
<text x="125" y="450" textLength="18" lengthAdjust="spacingAndGlyphs">1.0</text>
<text x="125" y="461" textLength="18" lengthAdjust="spacingAndGlyphs">0.8</text>
<text x="125" y="476" textLength="18" lengthAdjust="spacingAndGlyphs">0.6</text>
<text x="125" y="489" textLength="18" lengthAdjust="spacingAndGlyphs">0.4</text>
<text x="125" y="502" textLength="18" lengthAdjust="spacingAndGlyphs">0.2</text>
<text x="125" y="512" textLength="18" lengthAdjust="spacingAndGlyphs">0.0</text>
<text x="125" y="519" textLength="25" lengthAdjust="spacingAndGlyphs">1.00</text>
<text x="125" y="550" textLength="25" lengthAdjust="spacingAndGlyphs">0.10</text>
<text x="125" y="581" textLength="25" lengthAdjust="spacingAndGlyphs">0.01</text>
<text x="125" y="593" textLength="34" lengthAdjust="spacingAndGlyphs">10000</text>
<text x="125" y="612" textLength="28" lengthAdjust="spacingAndGlyphs">1000</text>
<text x="125" y="631" textLength="21" lengthAdjust="spacingAndGlyphs">100</text>
<text x="125" y="649" textLength="14" lengthAdjust="spacingAndGlyphs">10</text>
<text x="125" y="663" textLength="34" lengthAdjust="spacingAndGlyphs">10000</text>
<text x="125" y="682" textLength="28" lengthAdjust="spacingAndGlyphs">1000</text>
<text x="125" y="701" textLength="21" lengthAdjust="spacingAndGlyphs">100</text>
<text x="125" y="719" textLength="14" lengthAdjust="spacingAndGlyphs">10</text>
</g>

<!-- y titles (rotated) -->
<g font-size="10" text-anchor="middle" dominant-baseline="central">
<text transform="translate(69,52.5) rotate(-90)" textLength="15" lengthAdjust="spacingAndGlyphs">tha</text>
<text transform="translate(79,52.5) rotate(-90)" textLength="15" lengthAdjust="spacingAndGlyphs">fgs</text>
<text transform="translate(88.5,52.5) rotate(-90)" textLength="18" lengthAdjust="spacingAndGlyphs">gsm</text>
<text transform="translate(98,52.5) rotate(-90)" textLength="18" lengthAdjust="spacingAndGlyphs">[nT]</text>

<text transform="translate(60,121.5) rotate(-90)" textLength="15" lengthAdjust="spacingAndGlyphs">tha</text>
<text transform="translate(70,121.5) rotate(-90)" textLength="15" lengthAdjust="spacingAndGlyphs">fgs</text>
<text transform="translate(79,121.5) rotate(-90)" textLength="18" lengthAdjust="spacingAndGlyphs">gsm</text>
<text transform="translate(89,121.5) rotate(-90)" textLength="20" lengthAdjust="spacingAndGlyphs">−t89</text>
<text transform="translate(98,121.5) rotate(-90)" textLength="18" lengthAdjust="spacingAndGlyphs">[nT]</text>

<text transform="translate(82.5,205) rotate(-90)" textLength="37" lengthAdjust="spacingAndGlyphs">Density</text>
<text transform="translate(93.5,205) rotate(-90)" textLength="38" lengthAdjust="spacingAndGlyphs">[cm−3]</text>

<text transform="translate(71,268) rotate(-90)" textLength="29" lengthAdjust="spacingAndGlyphs">magt3</text>
<text transform="translate(81,268) rotate(-90)" textLength="18" lengthAdjust="spacingAndGlyphs">[eV]</text>

<text transform="translate(46.7,344) rotate(-90)" textLength="15" lengthAdjust="spacingAndGlyphs">tha</text>
<text transform="translate(57.5,344) rotate(-90)" textLength="22" lengthAdjust="spacingAndGlyphs">peim</text>
<text transform="translate(67,344) rotate(-90)" textLength="44" lengthAdjust="spacingAndGlyphs">velocity</text>
<text transform="translate(77.5,344) rotate(-90)" textLength="18" lengthAdjust="spacingAndGlyphs">gsm</text>
<text transform="translate(87,344) rotate(-90)" textLength="36" lengthAdjust="spacingAndGlyphs">[km/s]</text>

<text transform="translate(46.7,413) rotate(-90)" textLength="15" lengthAdjust="spacingAndGlyphs">tha</text>
<text transform="translate(57.5,413) rotate(-90)" textLength="22" lengthAdjust="spacingAndGlyphs">peem</text>
<text transform="translate(66.5,413) rotate(-90)" textLength="44" lengthAdjust="spacingAndGlyphs">velocity</text>
<text transform="translate(77,413) rotate(-90)" textLength="18" lengthAdjust="spacingAndGlyphs">gsm</text>
<text transform="translate(86.5,413) rotate(-90)" textLength="36" lengthAdjust="spacingAndGlyphs">[km/s]</text>

<text transform="translate(85.5,479) rotate(-90)" textLength="38" lengthAdjust="spacingAndGlyphs">E=−VxB</text>
<text transform="translate(94.5,479) rotate(-90)" textLength="38" lengthAdjust="spacingAndGlyphs">[mV/m]</text>

<text transform="translate(79,549.5) rotate(-90)" textLength="45" lengthAdjust="spacingAndGlyphs">Pressure</text>
<text transform="translate(90,549.5) rotate(-90)" textLength="30" lengthAdjust="spacingAndGlyphs">[nPa]</text>

<text transform="translate(22,619) rotate(-90)" textLength="16" lengthAdjust="spacingAndGlyphs">tha</text>
<text transform="translate(32,619) rotate(-90)" textLength="20" lengthAdjust="spacingAndGlyphs">peir</text>
<text transform="translate(42.5,619) rotate(-90)" textLength="11" lengthAdjust="spacingAndGlyphs">en</text>
<text transform="translate(52,619) rotate(-90)" textLength="26" lengthAdjust="spacingAndGlyphs">eflux</text>
<text transform="translate(61.5,619) rotate(-90)" textLength="16" lengthAdjust="spacingAndGlyphs">eV/</text>
<text transform="translate(71,619) rotate(-90)" textLength="50" lengthAdjust="spacingAndGlyphs">(cm^2-s-</text>
<text transform="translate(81,619) rotate(-90)" textLength="34" lengthAdjust="spacingAndGlyphs">sr-eV)</text>

<text transform="translate(22,688) rotate(-90)" textLength="16" lengthAdjust="spacingAndGlyphs">tha</text>
<text transform="translate(32,688) rotate(-90)" textLength="21" lengthAdjust="spacingAndGlyphs">peer</text>
<text transform="translate(42.5,688) rotate(-90)" textLength="11" lengthAdjust="spacingAndGlyphs">en</text>
<text transform="translate(52,688) rotate(-90)" textLength="26" lengthAdjust="spacingAndGlyphs">eflux</text>
<text transform="translate(61.5,688) rotate(-90)" textLength="16" lengthAdjust="spacingAndGlyphs">eV/</text>
<text transform="translate(71,688) rotate(-90)" textLength="50" lengthAdjust="spacingAndGlyphs">(cm^2-s-</text>
<text transform="translate(81,688) rotate(-90)" textLength="34" lengthAdjust="spacingAndGlyphs">sr-eV)</text>
</g>

<!-- Right legends -->
<g font-size="11" dominant-baseline="central">
<text x="698" y="24" fill="#000">Bt</text>
<text x="698" y="41" style="fill:#ff0000">bz</text>
<text x="698" y="59" style="fill:#00e000">by</text>
<text x="698" y="76" style="fill:#0000ff">bx</text>
<text x="698" y="125">Bx</text>
<text x="698" y="139" style="fill:#c00000">Bz</text>
<text x="698" y="150" style="fill:#00e000">By</text>
<text x="698" y="179" style="fill:#ff0000">Ne</text>
<text x="698" y="201">Ni</text>
<text x="698" y="225" style="fill:#0000ff">Npot</text>
<text x="698" y="245" style="fill:#ff0000">Te⊥</text>
<text x="698" y="262">Tell</text>
<text x="698" y="279" style="fill:#0000ff">Ti⊥</text>
<text x="698" y="295" style="fill:#00e000">Till</text>
<text x="698" y="314">Vt</text>
<text x="698" y="332" style="fill:#ff0000">Vz</text>
<text x="698" y="349" style="fill:#00e000">Vy</text>
<text x="698" y="365" style="fill:#0000ff">Vx</text>
<text x="698" y="383">Vt</text>
<text x="698" y="400" style="fill:#ff0000">Vz</text>
<text x="698" y="417" style="fill:#00e000">Vy</text>
<text x="698" y="434" style="fill:#0000ff">Vx</text>
<text x="698" y="455" style="fill:#ff0000">Ez</text>
<text x="698" y="478" style="fill:#00e000">Ey</text>
<text x="698" y="501" style="fill:#0000ff">Ex</text>
<text x="698" y="520">Pt</text>
<text x="698" y="538" style="fill:#ff0000">Pb</text>
<text x="698" y="555" style="fill:#00e000">Pe</text>
<text x="698" y="572" style="fill:#0000ff">Pi</text>
</g>

<!-- Bottom labels -->
<g font-size="10" dominant-baseline="central">
<text x="7" y="733.5" textLength="60" lengthAdjust="spacingAndGlyphs">tha_X-GSM</text>
<text x="7" y="743" textLength="60" lengthAdjust="spacingAndGlyphs">tha_Y-GSM</text>
<text x="7" y="752.5" textLength="60" lengthAdjust="spacingAndGlyphs">tha_Z-GSM</text>
<text x="7" y="762" textLength="32" lengthAdjust="spacingAndGlyphs">hhmm</text>
<text x="7" y="771.5" textLength="70" lengthAdjust="spacingAndGlyphs">2007 Nov 30</text>
</g>
<g font-size="10" text-anchor="middle" dominant-baseline="central">
<text x="128" y="733.5" textLength="25" lengthAdjust="spacingAndGlyphs">−7.7</text>
<text x="128" y="743" textLength="25" lengthAdjust="spacingAndGlyphs">−9.3</text>
<text x="128" y="752.5" textLength="25" lengthAdjust="spacingAndGlyphs">−1.6</text>
<text x="128" y="762" textLength="26" lengthAdjust="spacingAndGlyphs">0600</text>
<text x="267.5" y="733.5" textLength="25" lengthAdjust="spacingAndGlyphs">−7.7</text>
<text x="267.5" y="743" textLength="25" lengthAdjust="spacingAndGlyphs">−9.8</text>
<text x="267.5" y="752.5" textLength="25" lengthAdjust="spacingAndGlyphs">−1.4</text>
<text x="267.5" y="762" textLength="26" lengthAdjust="spacingAndGlyphs">0630</text>
<text x="407" y="733.5" textLength="25" lengthAdjust="spacingAndGlyphs">−7.6</text>
<text x="407" y="743" textLength="31" lengthAdjust="spacingAndGlyphs">−10.2</text>
<text x="407" y="752.5" textLength="25" lengthAdjust="spacingAndGlyphs">−1.1</text>
<text x="407" y="762" textLength="26" lengthAdjust="spacingAndGlyphs">0700</text>
<text x="546.5" y="733.5" textLength="25" lengthAdjust="spacingAndGlyphs">−7.6</text>
<text x="546.5" y="743" textLength="31" lengthAdjust="spacingAndGlyphs">−10.6</text>
<text x="546.5" y="752.5" textLength="25" lengthAdjust="spacingAndGlyphs">−0.9</text>
<text x="546.5" y="762" textLength="26" lengthAdjust="spacingAndGlyphs">0730</text>
<text x="686" y="733.5" textLength="25" lengthAdjust="spacingAndGlyphs">−7.5</text>
<text x="686" y="743" textLength="31" lengthAdjust="spacingAndGlyphs">−11.0</text>
<text x="686" y="752.5" textLength="25" lengthAdjust="spacingAndGlyphs">−0.7</text>
<text x="686" y="762" textLength="26" lengthAdjust="spacingAndGlyphs">0800</text>
</g>
</svg>
</body></html>
